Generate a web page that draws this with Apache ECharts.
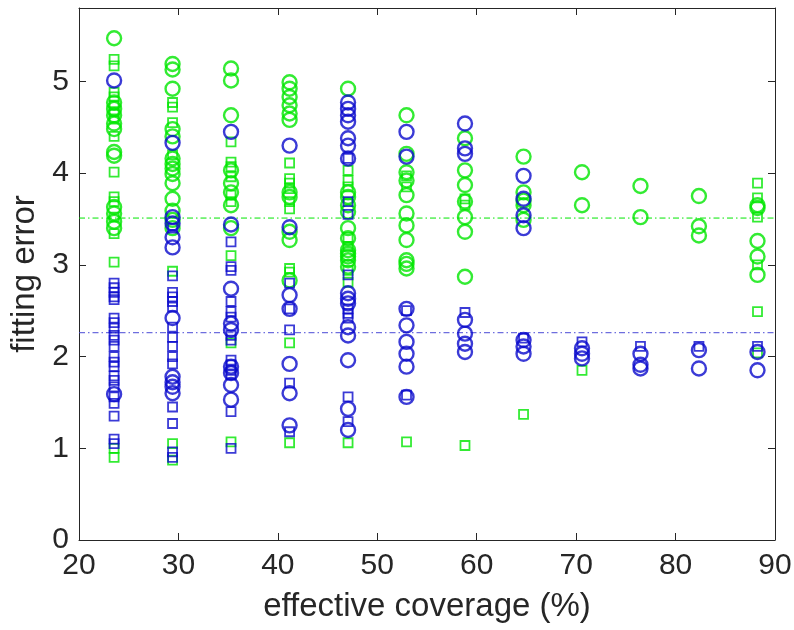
<!DOCTYPE html>
<html>
<head>
<meta charset="utf-8">
<script src="https://cdn.jsdelivr.net/npm/echarts@6/dist/echarts.min.js"></script>
<style>
html,body{margin:0;padding:0;background:#fff;}
#chart{width:794px;height:630px;}
</style>
</head>
<body>
<div id="chart"></div>
<script>
// effective coverage (%) columns
const coverage = [23.53, 29.41, 35.29, 41.18, 47.06, 52.94, 58.82, 64.71, 70.59, 76.47, 82.35, 88.24];
const xTicks = [20, 30, 40, 50, 60, 70, 80, 90];
const yTicks = [0, 1, 2, 3, 4, 5];

// values per coverage column
const greenCircle = [
  [5.47, 4.77, 4.70, 4.63, 4.54, 4.48, 4.23, 4.19, 3.63, 3.56, 3.47, 3.40],
  [5.19, 5.13, 4.92, 4.48, 4.40, 4.16, 4.10, 4.05, 3.99, 3.89, 3.72, 3.59, 3.49, 3.40],
  [5.14, 5.01, 4.63, 4.03, 3.89, 3.79, 3.65, 3.40],
  [4.99, 4.92, 4.83, 4.74, 4.65, 4.58, 3.79, 3.74, 3.36, 3.27, 2.83],
  [4.92, 3.79, 3.74, 3.65, 3.58, 3.40, 3.29, 3.16, 3.12, 3.09, 3.05, 2.98],
  [4.63, 4.21, 4.01, 3.92, 3.76, 3.56, 3.43, 3.27, 3.05, 3.01, 2.96],
  [4.38, 4.03, 3.87, 3.69, 3.52, 3.36, 2.87],
  [4.18, 3.79, 3.70, 3.65, 3.49],
  [4.01, 3.65],
  [3.86, 3.52],
  [3.75, 3.42, 3.32],
  [3.65, 3.62, 3.26, 3.09, 2.89]
];
const greenSquare = [
  [5.24, 5.17, 4.88, 4.83, 4.74, 4.67, 4.59, 4.40, 4.01, 3.74, 3.69, 3.52, 3.34, 3.03, 1.00, 0.90],
  [4.77, 4.72, 4.55, 4.20, 2.93, 1.05, 0.87],
  [4.34, 4.12, 4.07, 3.96, 3.76, 3.69, 3.10, 2.15, 1.07],
  [4.11, 3.94, 3.89, 3.83, 3.69, 3.61, 2.96, 2.92, 2.15, 1.06],
  [4.03, 3.92, 3.85, 3.30, 3.20, 2.94, 2.81, 1.06],
  [3.97, 3.85, 1.07],
  [3.72, 3.65, 1.03],
  [1.37],
  [1.85],
  [],
  [],
  [3.89, 3.73, 3.52, 3.00, 2.49, 2.04]
];
const blueCircle = [
  [5.01, 1.59],
  [4.33, 3.52, 3.45, 3.30, 3.19, 2.42, 1.78, 1.72, 1.67, 1.60],
  [4.45, 3.44, 2.74, 2.36, 2.29, 1.89, 1.82, 1.69, 1.53],
  [4.30, 3.41, 2.67, 2.52, 1.92, 1.60, 1.25],
  [4.77, 4.70, 4.63, 4.56, 4.38, 4.30, 4.16, 2.69, 2.63, 2.58, 2.32, 2.23, 1.96, 1.43, 1.20],
  [4.45, 4.18, 2.52, 2.34, 2.16, 2.03, 1.89, 1.56],
  [4.54, 4.27, 4.21, 2.40, 2.25, 2.14, 2.05],
  [3.97, 3.72, 3.54, 3.40, 2.18, 2.11, 2.03],
  [2.09, 2.03, 1.98],
  [2.03, 1.91, 1.87],
  [2.07, 1.87],
  [2.05, 1.85]
];
const blueSquare = [
  [2.80, 2.75, 2.70, 2.65, 2.62, 2.42, 2.37, 2.31, 2.23, 2.18, 2.11, 2.00, 1.94, 1.89, 1.79, 1.74, 1.67, 1.56, 1.49, 1.35, 1.10, 1.05],
  [3.40, 2.88, 2.70, 2.65, 2.60, 2.54, 2.32, 2.21, 2.11, 2.00, 1.92, 1.45, 1.27, 0.96, 0.90],
  [3.25, 2.98, 2.94, 2.60, 2.49, 2.43, 2.23, 2.18, 1.96, 1.91, 1.85, 1.80, 1.40, 1.00],
  [2.80, 2.52, 2.29, 1.71, 1.18],
  [4.16, 3.69, 3.55, 2.89, 2.52, 2.47, 2.42, 1.56, 1.29],
  [2.50, 1.58],
  [2.48],
  [2.20],
  [2.16],
  [2.11],
  [2.11],
  [2.11]
];
// mean lines
const greenMean = 3.51;
const blueMean = 2.26;
const xRange = [20, 90];

const GREEN = '#00e600';
const BLUE = '#0a0acc';
const AXIS = '#262626';
const FONT = 'Liberation Sans';

function pairs(groups) {
  const out = [];
  groups.forEach((vals, i) => vals.forEach(v => out.push([coverage[i], v])));
  return out;
}
function scatter(groups, symbol, size, color, bw) {
  return {
    type: 'scatter', data: pairs(groups), symbol: symbol, symbolSize: size,
    itemStyle: { color: 'rgba(0,0,0,0)', borderColor: color, borderWidth: bw },
    emphasis: { disabled: true }, silent: true, z: 3
  };
}
function hline(v, color) {
  return {
    type: 'line', data: xRange.map(x => [x, v]), symbol: 'none', silent: true,
    lineStyle: { color: color, width: 1, type: [6, 3, 1.5, 3] }, z: 2
  };
}

const chart = echarts.init(document.getElementById('chart'), null, { renderer: 'canvas' });
const axisCommon = {
  axisLine: { show: true, onZero: false, lineStyle: { color: AXIS, width: 1 } },
  splitLine: { show: false }
};
chart.setOption({
  animation: false,
  backgroundColor: '#fff',
  grid: { left: 79, right: 19, top: 8, bottom: 90, containLabel: false, outerBoundsMode: 'none' },
  xAxis: [
    Object.assign({
      type: 'value', min: 20, max: 90, interval: 10, position: 'bottom',
      name: 'effective coverage (%)', nameLocation: 'middle', nameGap: 50,
      nameTextStyle: { fontFamily: FONT, fontSize: 33, color: AXIS },
      axisTick: { show: true, inside: true, length: 7, customValues: xTicks, lineStyle: { color: AXIS } },
      axisLabel: { fontFamily: FONT, fontSize: 30, color: AXIS, margin: 11, customValues: xTicks }
    }, axisCommon),
    Object.assign({
      type: 'value', min: 20, max: 90, interval: 10, position: 'top',
      axisTick: { show: true, inside: true, length: 7, customValues: xTicks, lineStyle: { color: AXIS } },
      axisLabel: { show: false }
    }, axisCommon)
  ],
  yAxis: [
    Object.assign({
      type: 'value', min: 0, max: 5.8, interval: 1, position: 'left',
      name: 'fitting error', nameLocation: 'middle', nameGap: 31,
      nameTextStyle: { fontFamily: FONT, fontSize: 33, color: AXIS },
      axisTick: { show: true, inside: true, length: 7, customValues: yTicks, lineStyle: { color: AXIS } },
      axisLabel: { fontFamily: FONT, fontSize: 30, color: AXIS, margin: 10, customValues: yTicks }
    }, axisCommon),
    Object.assign({
      type: 'value', min: 0, max: 5.8, interval: 1, position: 'right',
      axisTick: { show: true, inside: true, length: 7, customValues: yTicks, lineStyle: { color: AXIS } },
      axisLabel: { show: false }
    }, axisCommon)
  ],
  series: [
    hline(greenMean, GREEN),
    hline(blueMean, '#4a4ad6'),
    scatter(greenCircle, 'circle', 14, GREEN, 2.4),
    scatter(greenSquare, 'rect', 9, GREEN, 1.8),
    scatter(blueCircle, 'circle', 14, BLUE, 2.4),
    scatter(blueSquare, 'rect', 9, BLUE, 1.8)
  ]
});
</script>
</body>
</html>
